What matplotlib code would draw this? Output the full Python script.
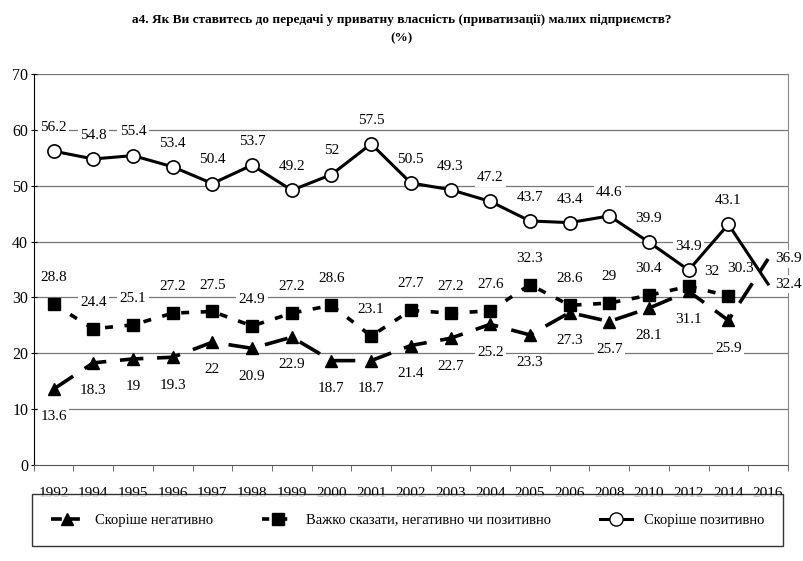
import numpy as np
import matplotlib
matplotlib.use('Agg')
from matplotlib import pyplot as plt
from matplotlib.lines import Line2D

plt.rcParams['font.family'] = ['Liberation Serif', 'DejaVu Serif']

years = ['1992', '1994', '1995', '1996', '1997', '1998', '1999', '2000', '2001', '2002',
         '2003', '2004', '2005', '2006', '2008', '2010', '2012', '2014', '2016']
negative = [13.6, 18.3, 19, 19.3, 22, 20.9, 22.9, 18.7, 18.7, 21.4,
            22.7, 25.2, 23.3, 27.3, 25.7, 28.1, 31.1, 25.9, 36.9]
hard_to_say = [28.8, 24.4, 25.1, 27.2, 27.5, 24.9, 27.2, 28.6, 23.1, 27.7,
               27.2, 27.6, 32.3, 28.6, 29, 30.4, 32, 30.3]
positive = [56.2, 54.8, 55.4, 53.4, 50.4, 53.7, 49.2, 52, 57.5, 50.5,
            49.3, 47.2, 43.7, 43.4, 44.6, 39.9, 34.9, 43.1, 32.4]

names = ['Скоріше негативно', 'Важко сказати, негативно чи позитивно', 'Скоріше позитивно']
title = 'а4. Як Ви ставитесь до передачі у приватну власність (приватизації) малих підприємств?\n(%)'

fig = plt.figure(figsize=(8.04, 5.61), dpi=100)
ax = fig.add_axes([0.042, 0.171, 0.938, 0.697])

x = np.arange(len(years))
bb = dict(boxstyle='square,pad=0.15', fc='white', ec='none')


def fmt(v):
    return ('%g' % v)


# positive
ax.plot(x, positive, color='black', lw=2.2, marker='o', ms=9.5, mfc='white', mec='black',
        mew=1.2, markevery=list(range(18)), zorder=4)
# hard to say
ax.plot(x[:len(hard_to_say)], hard_to_say, color='black', lw=2.6, ls=(0, (2.2, 3.2)),
        marker='s', ms=8.5, zorder=4)
# negative
ax.plot(x, negative, color='black', lw=2.6, ls=(0, (6.5, 3.8)), marker='^', ms=9,
        markevery=list(range(18)), zorder=4)

fs = 11
for i, v in enumerate(positive):
    if i == 18:
        ax.annotate(fmt(v), (x[i], v), xytext=(5, 0), textcoords='offset points',
                    ha='left', va='center', fontsize=fs, bbox=bb, zorder=3)
    else:
        ax.annotate(fmt(v), (x[i], v), xytext=(0, 17), textcoords='offset points',
                    ha='center', va='center', fontsize=fs, bbox=bb, zorder=3)
for i, v in enumerate(hard_to_say):
    if i == 16:
        off = (17, 11)
    elif i == 17:
        off = (9, 20)
    else:
        off = (0, 19)
    ax.annotate(fmt(v), (x[i], v), xytext=off, textcoords='offset points',
                ha='center', va='center', fontsize=fs, bbox=bb, zorder=3)
for i, v in enumerate(negative):
    if i == 18:
        ax.annotate(fmt(v), (x[i], v), xytext=(5, 0), textcoords='offset points',
                    ha='left', va='center', fontsize=fs, bbox=bb, zorder=3)
    else:
        ax.annotate(fmt(v), (x[i], v), xytext=(0, -20), textcoords='offset points',
                    ha='center', va='center', fontsize=fs, bbox=bb, zorder=3)

ax.set_xlim(-0.5, 18.5)
ax.set_ylim(0, 70)
ax.set_yticks(range(0, 71, 10))
ax.set_xticks(x)
ax.set_xticklabels(years, fontsize=11)
ax.set_xticks(np.arange(-0.5, 19, 1), minor=True)
ax.tick_params(axis='x', which='major', length=0, pad=16)
ax.tick_params(axis='x', which='minor', length=4, direction='out', color='#555555')
ax.tick_params(axis='y', labelsize=11.5, length=4, direction='inout', pad=2)
for yv in range(10, 71, 10):
    ax.axhline(yv, color='#777777', lw=0.9, zorder=1)
ax.spines['top'].set_visible(False)
ax.spines['right'].set_color('#888888')
ax.spines['left'].set_color('black')
ax.spines['bottom'].set_color('#555555')

fig.suptitle(title, fontsize=9.5, fontweight='bold', y=0.975, linespacing=1.7)

handles = [
    Line2D([], [], color='black', lw=2.6, ls=(0, (3, 2)), marker='^', ms=9),
    Line2D([], [], color='black', lw=2.6, ls=(0, (2, 3)), marker='s', ms=8.5),
    Line2D([], [], color='black', lw=2.2, marker='o', ms=9.5, mfc='white', mec='black'),
]
fig.legend(handles, names, loc='center', ncol=3, fontsize=10.5, frameon=True,
           fancybox=False, edgecolor='black', bbox_to_anchor=(0.031, 0.023, 0.952, 0.1),
           mode='expand', handlelength=2.2, borderpad=1.3)

fig.savefig('out.png', dpi=100)
